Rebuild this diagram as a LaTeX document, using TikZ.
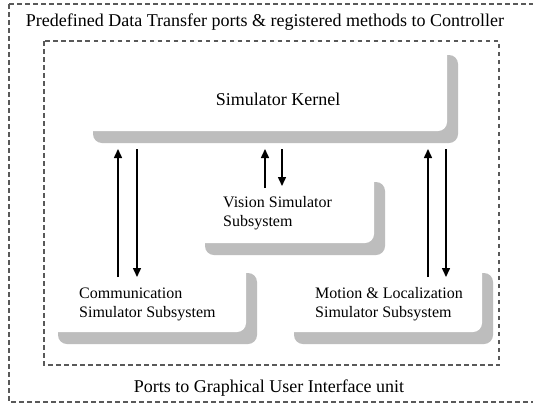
\documentclass[tikz,border=0pt]{standalone}
\usepackage{fontspec}
\setmainfont{Liberation Serif}
\usetikzlibrary{arrows.meta,shadows}
\begin{document}
\begin{tikzpicture}[x=1pt,y=-1pt,
  frame/.style={draw=black!65,line width=1.4pt,dash pattern=on 4.5pt off 3.5pt},
  unit/.style={fill=white,rounded corners=9pt,inner sep=0pt,
    drop shadow={shadow xshift=11pt,shadow yshift=-12pt,fill=black!26,opacity=1}},
  caption/.style={font=\fontsize{18}{22}\selectfont,inner sep=0pt},
  label/.style={font=\fontsize{16}{19}\selectfont,inner sep=0pt},
  flow/.style={line width=1.5pt,-{Triangle[length=9pt,width=8pt]}}]
\useasboundingbox (0,0) rectangle (533,405);
\fill[white] (0,0) rectangle (533,405);

% outer and inner port frames
\draw[frame] (9,4) -- (560,4) (9,4) -- (9,402) -- (560,402);
\draw[frame] (44,41) rectangle (499,365);

% subsystem boxes
\node[unit,minimum width=365pt,minimum height=88pt] (kernel) at (264.5,87) {};
\node[unit,minimum width=180pt,minimum height=73pt] (vision) at (284,206.5) {};
\node[unit,minimum width=199pt,minimum height=71pt] (comm) at (146.5,296.5) {};
\node[unit,minimum width=199pt,minimum height=71pt] (motion) at (382.5,296.5) {};

% texts
\node[caption] (top) at (265,22) {Predefined Data Transfer ports \& registered methods to Controller};
\node[caption] (bottom) at (269,388) {Ports to Graphical User Interface unit};
\node[caption] (kt) at (278,99) {Simulator Kernel};
\node[label,align=left,anchor=west] (vt) at (223,213) {Vision Simulator\\Subsystem};
\node[label,align=left,anchor=west] (ct) at (79,304.5) {Communication\\Simulator Subsystem};
\node[label,align=left,anchor=west] (mt) at (315,304.5) {Motion \& Localization\\Simulator Subsystem};

% connector end points
\coordinate (k1) at (118,149);
\coordinate (k2) at (137,149);
\coordinate (k3) at (265,149);
\coordinate (k4) at (282,149);
\coordinate (k5) at (428,149);
\coordinate (k6) at (446,149);
\coordinate (c1) at (118,277);
\coordinate (c2) at (137,277);
\coordinate (v1) at (265,188);
\coordinate (v2) at (282,186);
\coordinate (m1) at (428,277);
\coordinate (m2) at (446,277);

% data flows
\draw[flow] (c1) -- (k1);
\draw[flow] (k2) -- (c2);
\draw[flow] (v1) -- (k3);
\draw[flow] (k4) -- (v2);
\draw[flow] (m1) -- (k5);
\draw[flow] (k6) -- (m2);
\end{tikzpicture}
\end{document}
